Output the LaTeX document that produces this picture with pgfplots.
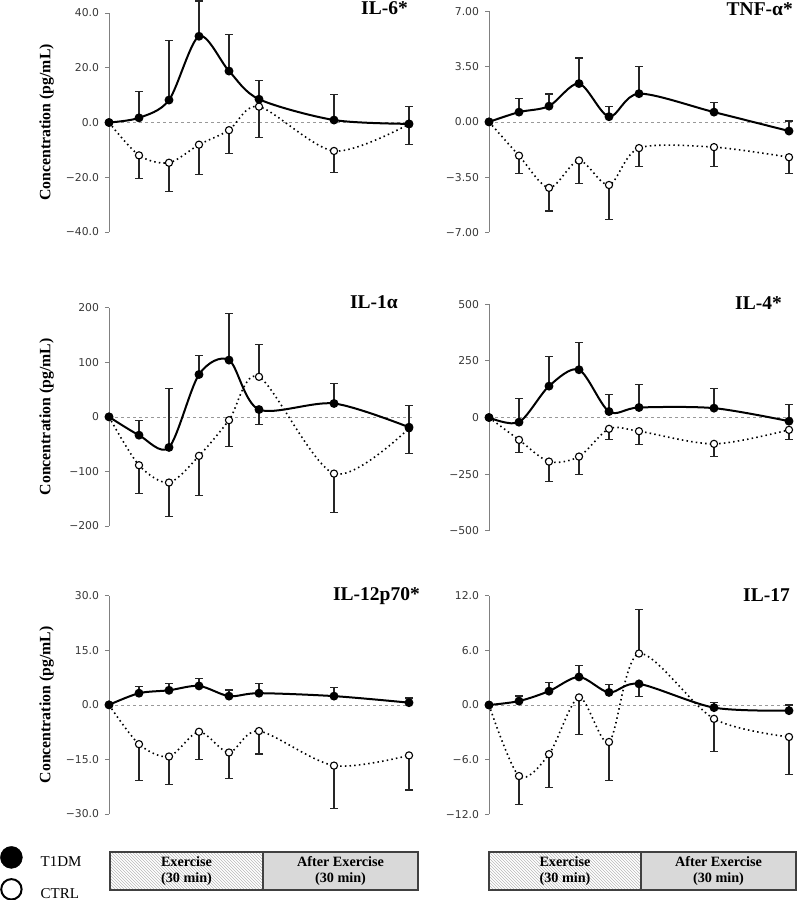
\documentclass[border=0pt]{standalone}
\usepackage{pgfplots}
\pgfplotsset{compat=1.18}
\usepackage{pgfplotstable}
\usepackage{fontspec}
\setmainfont{Liberation Serif}
\newfontfamily\ticfont{DejaVu Sans}
\usetikzlibrary{patterns}

% ---------------- data: t = minutes, v = value, e = signed error (end - value)
\pgfplotstableread{
t v e
0 0 0
6 1.7 9.6
12 8.2 21.8
18 31.5 12.9
24 18.8 13.3
30 8.5 6.8
45 0.9 9.4
60 -0.5 6.3
}\sixT
\pgfplotstableread{
t v e
0 0 0
6 -12.0 -8.6
12 -14.7 -10.6
18 -8.1 -11.0
24 -2.8 -8.4
30 5.8 -11.3
45 -10.4 -7.8
60 -0.6 -7.4
}\sixC
\pgfplotstableread{
t v e
0 0 0
6 0.62 0.88
12 1.0 0.77
18 2.43 1.62
24 0.33 0.65
30 1.79 1.74
45 0.62 0.61
60 -0.58 0.64
}\tnfT
\pgfplotstableread{
t v e
0 0 0
6 -2.14 -1.14
12 -4.18 -1.47
18 -2.45 -1.46
24 -4.0 -2.17
30 -1.66 -1.19
45 -1.6 -1.25
60 -2.24 -1.04
}\tnfC
\pgfplotstableread{
t v e
0 0 0
6 -33.6 26.3
12 -56 107.3
18 77.6 34.3
24 104 85.5
30 13.4 -28.1
45 24.5 36
60 -19 40.4
}\oneT
\pgfplotstableread{
t v e
0 0 0
6 -88.6 -52
12 -120.4 -61.6
18 -71.5 -72.2
24 -6.1 -48.9
30 73.3 59.3
45 -104 -72
60 -21 -46
}\oneC
\pgfplotstableread{
t v e
0 0 0
6 -20.6 103.2
12 138.6 131.3
18 211 120.9
24 26.5 76.7
30 44.2 103.3
45 41.3 88.5
60 -16.2 72.2
}\fourT
\pgfplotstableread{
t v e
0 0 0
6 -98.8 -56.1
12 -194.7 -88.5
18 -172.6 -79.6
24 -50.1 -45.8
30 -60.5 -57.5
45 -116.5 -54.5
60 -54.6 -41.3
}\fourC
\pgfplotstableread{
t v e
0 0 0
6 3.2 1.8
12 4.0 1.8
18 5.2 2.1
24 2.4 1.7
30 3.2 2.6
45 2.4 2.4
60 0.6 1.3
}\twelveT
\pgfplotstableread{
t v e
0 0 0
6 -10.8 -9.9
12 -14.2 -7.6
18 -7.4 -7.7
24 -13.1 -7.2
30 -7.2 -6.3
45 -16.7 -11.8
60 -13.9 -9.5
}\twelveC
\pgfplotstableread{
t v e
0 0 0
6 0.43 0.55
12 1.52 0.94
18 3.08 1.27
24 1.38 0.9
30 2.32 -1.38
45 -0.29 0.58
60 -0.62 0.62
}\svtT
\pgfplotstableread{
t v e
0 0 0
6 -7.8 -3.1
12 -5.4 -3.65
18 0.83 -4.09
24 -4.06 -4.24
30 5.65 4.85
45 -1.52 -3.55
60 -3.51 -4.09
}\svtC

\pgfplotsset{
  panel/.style={scale only axis, width=300pt, xmin=0, xmax=60, clip=false,
    axis x line=none, axis y line=left,
    axis line style={-, draw=black!50, line width=0.9pt},
    tick style={draw=black!50, line width=0.9pt},
    major tick length=4pt, tick align=outside,
    yticklabel style={font=\ticfont\fontsize{10.8}{12}\selectfont, text=black!78, xshift=-2.5pt},
  },
  ylab/.style={ylabel={Concentration (pg/mL)},
    every axis y label/.style={at={(axis description cs:-0.208,0.5)}, rotate=90, anchor=center,
      font=\bfseries\fontsize{15.8}{18}\selectfont}},
  t1/.style={black, line width=2pt, smooth, mark=*, mark size=3.4pt,
    mark options={solid, fill=black}},
  ct/.style={black, line width=1.6pt, smooth, dash pattern=on 1.5pt off 3.2pt,
    mark=*, mark size=3.6pt, mark options={solid, fill=white, line width=1.1pt}},
  eb/.style={draw=none, mark=none, forget plot, skip coords between index={0}{1},
    error bars/.cd, y dir=plus, y explicit,
    error bar style={draw=black!85, solid, line width=1.2pt},
    error mark=-, error mark options={rotate=90, draw=black!85, solid, line width=1.2pt, mark size=4pt}},
  zl/.style={forget plot, draw=black!40, dashed, line width=0.6pt},
}

\newcommand{\series}[2]{%
  \addplot[zl] coordinates {(0,0) (61,0)};
  \addplot[eb] table[x=t,y=v,y error=e] {#2};
  \addplot[eb] table[x=t,y=v,y error=e] {#1};
  \addplot[ct, forget plot] table[x=t,y=v] {#2};
  \addplot[t1, forget plot] table[x=t,y=v] {#1};
}

\begin{document}
\begin{tikzpicture}
\path[use as bounding box] (0,0) rectangle (797pt,900pt);

% IL-6
\begin{axis}[panel, ylab, at={(109pt,668pt)}, anchor=south west, height=219pt,
  ymin=-40, ymax=40, ytick={-40,-20,0,20,40},
  yticklabels={−40.0,−20.0,0.0,20.0,40.0}]
\series{\sixT}{\sixC}
\end{axis}

% TNF
\begin{axis}[panel, at={(489pt,667.7pt)}, anchor=south west, height=220.8pt,
  ymin=-7, ymax=7, ytick={-7,-3.5,0,3.5,7},
  yticklabels={−7.00,−3.50,0.00,3.50,7.00}]
\series{\tnfT}{\tnfC}
\end{axis}

% IL-1a
\begin{axis}[panel, ylab, at={(109pt,374pt)}, anchor=south west, height=218.3pt,
  ymin=-200, ymax=200, ytick={-200,-100,0,100,200},
  yticklabels={−200,−100,0,100,200}]
\series{\oneT}{\oneC}
\end{axis}

% IL-4
\begin{axis}[panel, at={(489pt,369.3pt)}, anchor=south west, height=226.4pt,
  ymin=-500, ymax=500, ytick={-500,-250,0,250,500},
  yticklabels={−500,−250,0,250,500}]
\series{\fourT}{\fourC}
\end{axis}

% IL-12p70 (with legend)
\begin{axis}[panel, ylab, at={(109pt,86pt)}, anchor=south west, height=218.3pt,
  ymin=-30, ymax=30, ytick={-30,-15,0,15,30},
  yticklabels={−30.0,−15.0,0.0,15.0,30.0},
  legend style={at={(axis description cs:-0.3633,-0.1466)}, anchor=north west,
    draw=none, fill=none, inner sep=0pt, row sep=8pt, column sep=16pt,
    font=\fontsize{15}{17}\selectfont},
  legend cell align=left]
\addlegendimage{legend image code/.code={\fill[black] (11pt,5pt) circle (11pt);}}
\addlegendentry{T1DM}
\addlegendimage{legend image code/.code={\draw[black, line width=2pt, fill=white] (11pt,5pt) circle (10.2pt);}}
\addlegendentry{CTRL}
\series{\twelveT}{\twelveC}
\end{axis}

% IL-17
\begin{axis}[panel, at={(489pt,85.7pt)}, anchor=south west, height=218.6pt,
  ymin=-12, ymax=12, ytick={-12,-6,0,6,12},
  yticklabels={−12.0,−6.0,0.0,6.0,12.0}]
\series{\svtT}{\svtC}
\end{axis}

% titles
\begin{scope}[every node/.style={anchor=base east, inner sep=0pt, font=\bfseries\fontsize{19.5}{22}\selectfont}]
\node at (408pt,885pt) {IL-6*};
\node at (793pt,884pt) {TNF-α*};
\node at (398pt,591pt) {IL-1α};
\node at (782pt,590pt) {IL-4*};
\node at (420pt,299pt) {IL-12p70*};
\node at (790pt,298pt) {IL-17};
\end{scope}

% phase boxes
\begin{scope}[every node/.style={anchor=base, inner sep=0pt, font=\bfseries\fontsize{14.2}{16}\selectfont}]
\fill[pattern=north west lines, pattern color=black!28] (110pt,10pt) rectangle (263pt,48pt);
\fill[black!15] (263pt,10pt) rectangle (418pt,48pt);
\draw[black!75, line width=1.2pt] (110pt,10pt) rectangle (418pt,48pt);
\draw[black!75, line width=1.2pt] (263pt,10pt) -- (263pt,48pt);
\node at (186.5pt,33.3pt) {Exercise};
\node at (186.5pt,17pt) {(30 min)};
\node at (340.5pt,33.3pt) {After Exercise};
\node at (340.5pt,17pt) {(30 min)};

\fill[pattern=north west lines, pattern color=black!28] (489pt,10pt) rectangle (641pt,48pt);
\fill[black!15] (641pt,10pt) rectangle (796pt,48pt);
\draw[black!75, line width=1.2pt] (489pt,10pt) rectangle (796pt,48pt);
\draw[black!75, line width=1.2pt] (641pt,10pt) -- (641pt,48pt);
\node at (565pt,33.3pt) {Exercise};
\node at (565pt,17pt) {(30 min)};
\node at (718.5pt,33.3pt) {After Exercise};
\node at (718.5pt,17pt) {(30 min)};
\end{scope}
\end{tikzpicture}
\end{document}
